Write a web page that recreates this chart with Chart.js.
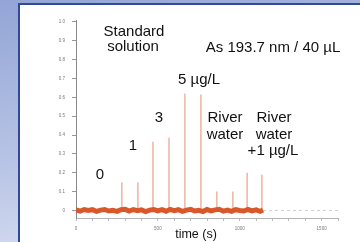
<!DOCTYPE html>
<html>
<head>
<meta charset="utf-8">
<script src="https://cdn.jsdelivr.net/npm/chart.js@4"></script>
<style>
  html, body { margin: 0; padding: 0; }
  body {
    width: 360px; height: 242px; position: relative; overflow: hidden;
    background: linear-gradient(170deg, #93a5d6 0%, #b9c5e6 55%, #dfe4f3 100%);
  }
  #panel {
    position: absolute; left: 18px; top: 3px; right: 0; bottom: 0;
    background: #fff; border-left: 2px solid #34489b; border-top: 2px solid #34489b;
  }
  #chart { position: absolute; left: 0; top: 0; }
</style>
</head>
<body>
<div id="panel"></div>
<canvas id="chart" width="360" height="242"></canvas>
<script>
// ---------- data ----------
// baseline trace (time s / signal)
const baseTime = [0, 25, 50, 75, 100, 125, 150, 175, 200, 225, 250, 275, 300, 325, 350, 375,
  400, 425, 450, 475, 500, 525, 550, 575, 600, 625, 650, 675, 700, 725, 750, 775,
  800, 825, 850, 875, 900, 925, 950, 975, 1000, 1025, 1050, 1075, 1100, 1125, 1142];
const baseSignal = [0.03, -0.04, 0.05, 0.0, 0.04, -0.05, 0.02, 0.05, -0.03, 0.01, -0.05, 0.04,
  0.06, -0.03, 0.05, -0.01, 0.03, -0.06, 0.02, 0.05, -0.02, 0.04, -0.04, 0.06,
  -0.01, 0.04, -0.05, 0.02, 0.06, -0.03, 0.01, -0.06, 0.05, -0.02, 0.03, 0.06,
  -0.04, 0.02, -0.05, 0.04, 0.0, -0.03, 0.05, -0.02, 0.03, -0.05, 0.02];

// injection peaks: 1, 1, 3, 3, 5, 5 ug/L, river, river, river+1, river+1
const peakTime = [280, 378, 470, 568, 665, 763, 860, 958, 1045, 1135];
const peakHeight = [1.5, 1.5, 3.65, 3.85, 6.2, 6.15, 1.0, 1.0, 2.0, 1.9];

// dashed continuation after the run
const tailTime = [1142, 1600];
const tailSignal = [0, 0];

const xTicks = [0, 500, 1000, 1500];
const yTickLabels = ["0", "0.1", "0.2", "0.3", "0.4", "0.5", "0.6", "0.7", "0.8", "0.9", "1.0"];

// text on the plot: [text, x px, y px]
const notes = [
  ["Standard", 134, 32], ["solution", 133, 47],
  ["As 193.7 nm / 40 \u00b5L", 273, 48],
  ["5 \u00b5g/L", 199, 80], ["3", 159, 118], ["1", 133, 146], ["0", 100, 175],
  ["River", 225, 118], ["water", 225, 135],
  ["River", 274, 118], ["water", 274, 135], ["+1 \u00b5g/L", 273, 151]
];

// ---------- build datasets ----------
const baseData = baseTime.map((t, i) => ({ x: t, y: baseSignal[i] }));
const peakData = [];
peakTime.forEach((t, i) => {
  peakData.push({ x: t, y: 0 }, { x: t, y: peakHeight[i] }, { x: t, y: null });
});
const tailData = tailTime.map((t, i) => ({ x: t, y: tailSignal[i] }));

const notesPlugin = {
  id: "notes",
  afterDraw(chart) {
    const c = chart.ctx;
    c.save();
    c.fillStyle = "#111";
    c.font = "15px 'Liberation Sans', Arial, sans-serif";
    c.textAlign = "center";
    c.textBaseline = "middle";
    notes.forEach(([t, x, y]) => c.fillText(t, x, y));
    c.font = "12.5px 'Liberation Sans', Arial, sans-serif";
    c.fillText("time (s)", 196, 235);
    c.restore();
  }
};

new Chart(document.getElementById("chart").getContext("2d"), {
  type: "line",
  data: {
    datasets: [
      { data: baseData, borderColor: "#d9582b", borderWidth: 5, pointRadius: 0, tension: 0, order: 1 },
      { data: peakData, borderColor: "#ecb4a4", borderWidth: 1.5, pointRadius: 0, order: 2 },
      { data: tailData, borderColor: "#cfcfcf", borderWidth: 1, borderDash: [3, 3], pointRadius: 0, order: 3 }
    ]
  },
  options: {
    responsive: false,
    animation: false,
    layout: { padding: { top: 20, right: 22, left: 0, bottom: 0 } },
    plugins: { legend: { display: false }, tooltip: { enabled: false } },
    scales: {
      x: {
        type: "linear", min: 0, max: 1600,
        afterFit: s => { s.height = 24; },
        border: { color: "#b5b5b5" },
        grid: { drawOnChartArea: false, tickLength: 3, color: "#bbb" },
        ticks: {
          stepSize: 100, autoSkip: false, maxRotation: 0, padding: 5,
          color: "#777", font: { size: 4.5 },
          callback: v => xTicks.includes(v) ? String(v) : ""
        }
      },
      y: {
        min: -0.4, max: 10.1,
        afterFit: s => { s.width = 76; },
        border: { color: "#8a8a8a" },
        grid: { drawOnChartArea: false, tickLength: 4, color: "#999" },
        ticks: {
          stepSize: 1, includeBounds: false, padding: 7,
          color: "#777", font: { size: 4.5 },
          callback: v => yTickLabels[v] !== undefined ? yTickLabels[v] : ""
        }
      }
    }
  },
  plugins: [notesPlugin]
});
</script>
</body>
</html>
